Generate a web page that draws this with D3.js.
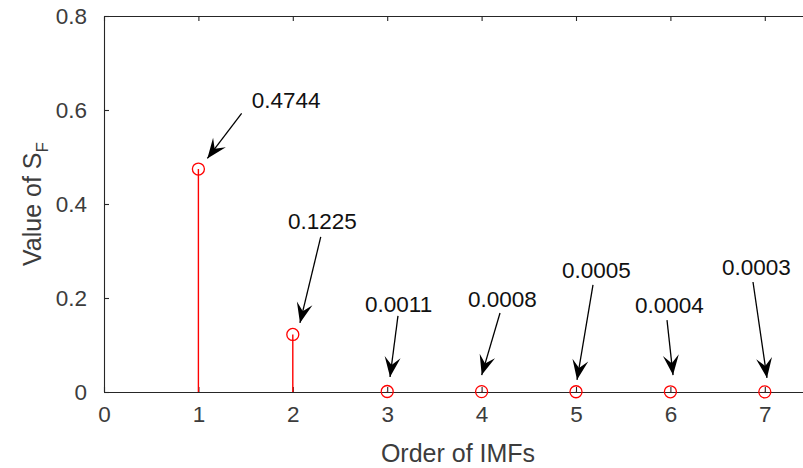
<!DOCTYPE html>
<html lang="en">
<head>
<meta charset="UTF-8">
<title>Value of SF by IMF order</title>
<script src="https://d3js.org/d3.v7.min.js"></script>
<style>
    body { margin: 0; background: #fff; }
    text { font-family: "Liberation Sans", Arial, sans-serif; }
</style>
</head>
<body>
<div id="chart"></div>
<script>
// data
const imfOrder = [1, 2, 3, 4, 5, 6, 7];
const sfValues = [0.4744, 0.1225, 0.0011, 0.0008, 0.0005, 0.0004, 0.0003];
const valueLabels = ["0.4744", "0.1225", "0.0011", "0.0008", "0.0005", "0.0004", "0.0003"];
const xTicks = [0, 1, 2, 3, 4, 5, 6, 7];
const yTicks = [0, 0.2, 0.4, 0.6, 0.8];

// annotation placement in data units: text anchor, arrow tail, arrow tip
const notes = [
    { tx: 1.565, ty: 0.605, ax: 1.458, ay: 0.593, bx: 1.095, by: 0.497 },
    { tx: 1.949, ty: 0.347, ax: 2.296, ay: 0.330, bx: 2.076, by: 0.147 },
    { tx: 2.765, ty: 0.170, ax: 3.114, ay: 0.162, bx: 3.030, by: 0.032 },
    { tx: 3.856, ty: 0.181, ax: 4.195, ay: 0.168, bx: 4.001, by: 0.036 },
    { tx: 4.852, ty: 0.243, ax: 5.180, ay: 0.228, bx: 5.011, by: 0.026 },
    { tx: 5.625, ty: 0.168, ax: 5.964, ay: 0.153, bx: 6.028, by: 0.036 },
    { tx: 6.547, ty: 0.249, ax: 6.875, ay: 0.234, bx: 7.023, by: 0.030 }
];

const W = 803, H = 468;
const m = { left: 104, top: 16 };
const plotW = 708, plotH = 376;
const axisCol = "#262626";
const labelCol = "#3c3c3c";

const x = d3.scaleLinear().domain([0, 7.5]).range([0, plotW]);
const y = d3.scaleLinear().domain([0, 0.8]).range([plotH, 0]);

const svg = d3.select("#chart").append("svg")
    .attr("width", W).attr("height", H);

const g = svg.append("g").attr("transform", "translate(" + m.left + "," + m.top + ")");

// box + ticks inside (matlab style)
const xAxisB = g.append("g").attr("transform", "translate(0," + plotH + ")")
    .call(d3.axisBottom(x).tickValues(xTicks).tickFormat(d3.format("d")).tickSizeInner(-5).tickSizeOuter(0).tickPadding(14));
const yAxisL = g.append("g")
    .call(d3.axisLeft(y).tickValues(yTicks).tickFormat(d => d === 0 ? "0" : d3.format(".1f")(d)).tickSizeInner(-5).tickSizeOuter(0).tickPadding(17));
const xAxisT = g.append("g")
    .call(d3.axisTop(x).tickValues(xTicks).tickFormat("").tickSizeInner(-5).tickSizeOuter(0));

[xAxisB, yAxisL, xAxisT].forEach(a => {
    a.select(".domain").attr("stroke", axisCol).attr("stroke-width", 1.1);
    a.selectAll(".tick line").attr("stroke", axisCol).attr("stroke-width", 1.1);
    a.selectAll(".tick text").attr("fill", labelCol)
        .style("font-family", "'Liberation Sans', Arial, sans-serif")
        .style("font-size", "22.5px");
});
xAxisB.selectAll(".tick text").attr("dy", "0.71em");

// stems
g.selectAll("line.stem")
    .data(sfValues)
    .enter().append("line")
    .attr("class", "stem")
    .attr("x1", (d, i) => x(imfOrder[i]))
    .attr("x2", (d, i) => x(imfOrder[i]))
    .attr("y1", y(0))
    .attr("y2", d => y(d))
    .attr("stroke", "#ff0000")
    .attr("stroke-width", 1.4);

g.selectAll("circle.mk")
    .data(sfValues)
    .enter().append("circle")
    .attr("class", "mk")
    .attr("cx", (d, i) => x(imfOrder[i]))
    .attr("cy", d => y(d))
    .attr("r", 6)
    .attr("fill", "none")
    .attr("stroke", "#ff0000")
    .attr("stroke-width", 1.3);

// annotation arrows
const headL = 20, headW = 16;
const ann = g.selectAll("g.note")
    .data(notes)
    .enter().append("g")
    .attr("class", "note");

ann.append("line")
    .attr("x1", d => x(d.ax)).attr("y1", d => y(d.ay))
    .attr("x2", d => x(d.bx)).attr("y2", d => y(d.by))
    .attr("stroke", "#000").attr("stroke-width", 1.3);

ann.append("path")
    .attr("d", "M0,0 L" + (-headL) + "," + (headW / 2) + " L" + (-headL * 0.6) + ",0 L" + (-headL) + "," + (-headW / 2) + " Z")
    .attr("fill", "#000")
    .attr("transform", d => {
        const ang = Math.atan2(y(d.by) - y(d.ay), x(d.bx) - x(d.ax)) * 180 / Math.PI;
        return "translate(" + x(d.bx) + "," + y(d.by) + ") rotate(" + ang + ")";
    });

ann.append("text")
    .attr("x", d => x(d.tx))
    .attr("y", d => y(d.ty))
    .attr("fill", "#111")
    .style("font-size", "22.5px")
    .text((d, i) => valueLabels[i]);

// axis labels
g.append("text")
    .attr("x", plotW / 2)
    .attr("y", 446)
    .attr("text-anchor", "middle")
    .attr("fill", labelCol)
    .style("font-size", "25px")
    .text("Order of IMFs");

const yl = svg.append("text")
    .attr("transform", "translate(41," + (m.top + plotH / 2) + ") rotate(-90)")
    .attr("text-anchor", "middle")
    .attr("fill", labelCol)
    .style("font-size", "25px");
yl.append("tspan").text("Value of S");
yl.append("tspan").attr("dy", 7).style("font-size", "17px").text("F");
</script>
</body>
</html>
